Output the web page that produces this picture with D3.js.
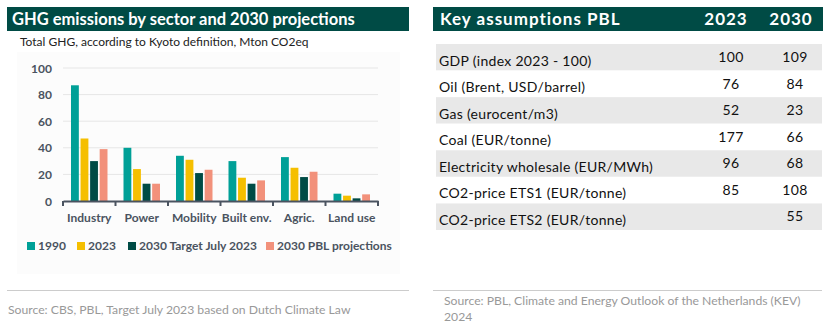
<!DOCTYPE html>
<html>
<head>
<meta charset="UTF-8">
<title>GHG emissions</title>
<script src="https://d3js.org/d3.v7.min.js"></script>
<style>
  body { margin: 0; background: #fff; font-family: Lato, "Open Sans", sans-serif; }
  svg text { font-family: Lato, "Open Sans", sans-serif; }
</style>
</head>
<body>
<svg id="chart" width="828" height="329"></svg>
<script>
// chart data
const sectors = ["Industry", "Power", "Mobility", "Built env.", "Agric.", "Land use"];
const seriesNames = ["1990", "2023", "2030 Target July 2023", "2030 PBL projections"];
const v1990 = [87, 40, 34, 30, 33, 5.5];
const v2023 = [47, 24, 31, 17.5, 25, 4];
const vTarget = [30, 13, 21, 13, 18, 2];
const vPbl = [39, 13, 23.5, 15.5, 22, 5];
const yTicks = [0, 20, 40, 60, 80, 100];
const colors = ["#00a097", "#f5bf00", "#004b45", "#f2917b"];

// table data
const rowLabels = ["GDP (index 2023 - 100)", "Oil (Brent, USD/barrel)", "Gas (eurocent/m3)", "Coal (EUR/tonne)",
  "Electricity wholesale (EUR/MWh)", "CO2-price ETS1 (EUR/tonne)", "CO2-price ETS2 (EUR/tonne)"];
const col2023 = ["100", "76", "52", "177", "96", "85", ""];
const col2030 = ["109", "84", "23", "66", "68", "108", "55"];

const svg = d3.select("#chart");
const dark = "#004b45";

// ---- left panel ----
svg.append("rect").attr("x", 7).attr("y", 7).attr("width", 402).attr("height", 24).attr("fill", dark);
svg.append("text").attr("x", 12).attr("y", 25).attr("fill", "#fff")
  .attr("font-size", 16.5).attr("font-weight", "bold").text("GHG emissions by sector and 2030 projections");
svg.append("text").attr("x", 20).attr("y", 46).attr("fill", "#222").attr("font-size", 12)
  .text("Total GHG, according to Kyoto definition, Mton CO2eq");

svg.append("rect").attr("x", 17).attr("y", 52).attr("width", 383).attr("height", 222).attr("fill", "#fcfcfc");

const x0 = d3.scaleBand().domain(sectors).range([63, 378]).paddingInner(0).paddingOuter(0);
const x1 = d3.scaleBand().domain(seriesNames).range([8, x0.bandwidth() - 8]).paddingInner(0.18);
const y = d3.scaleLinear().domain([0, 100]).range([201, 68]);

const g = svg.append("g");
g.selectAll("line.grid").data(yTicks.slice(1)).join("line")
  .attr("x1", 63).attr("x2", 378).attr("y1", d => y(d)).attr("y2", d => y(d))
  .attr("stroke", "#e6e6e6").attr("stroke-width", 1);
g.selectAll("text.ytick").data(yTicks).join("text")
  .attr("x", 52).attr("y", d => y(d) + 4.5).attr("text-anchor", "end")
  .attr("font-size", 12).attr("font-weight", "bold").attr("fill", "#4a5360").text(d => d);

const allSeries = [v1990, v2023, vTarget, vPbl];
sectors.forEach((s, i) => {
  g.append("g").attr("transform", `translate(${x0(s)},0)`)
    .selectAll("rect").data(seriesNames).join("rect")
    .attr("x", d => x1(d)).attr("width", x1.bandwidth())
    .attr("y", (d, j) => y(allSeries[j][i]))
    .attr("height", (d, j) => y(0) - y(allSeries[j][i]))
    .attr("fill", (d, j) => colors[j]);
});

const axis = d3.axisBottom(x0).tickSize(0).tickPadding(12);
const ax = g.append("g").attr("transform", `translate(0,${y(0)})`).call(axis);
ax.select(".domain").attr("stroke", "#4a5360").attr("stroke-width", 2);
ax.selectAll("text").attr("font-size", 12).attr("font-weight", "bold").attr("fill", "#4a5360")
  .style("font-family", "Lato, sans-serif");
g.selectAll("line.sep").data(d3.range(sectors.length + 1)).join("line")
  .attr("x1", i => 63 + i * x0.bandwidth()).attr("x2", i => 63 + i * x0.bandwidth())
  .attr("y1", y(0)).attr("y2", y(0) + 5).attr("stroke", "#4a5360").attr("stroke-width", 2);

// legend
const legendX = [27, 77, 128, 266];
const leg = g.selectAll("g.leg").data(seriesNames).join("g")
  .attr("transform", (d, i) => `translate(${legendX[i]},245)`);
leg.append("rect").attr("width", 8).attr("height", 8).attr("y", -3).attr("fill", (d, i) => colors[i]);
leg.append("text").attr("x", 11).attr("y", 5).attr("font-size", 12).attr("font-weight", "bold")
  .attr("fill", "#4a5360").text(d => d);

svg.append("line").attr("x1", 7).attr("x2", 409).attr("y1", 290.5).attr("y2", 290.5).attr("stroke", "#cccccc");
svg.append("text").attr("x", 8).attr("y", 314).attr("font-size", 12.2).attr("fill", "#999")
  .text("Source: CBS, PBL, Target July 2023 based on Dutch Climate Law");

// ---- right panel ----
svg.append("rect").attr("x", 433).attr("y", 7).attr("width", 390).attr("height", 24).attr("fill", dark);
const hdr = svg.append("g").attr("fill", "#fff").attr("font-size", 17).attr("font-weight", "bold")
  .attr("letter-spacing", 1);
hdr.append("text").attr("x", 440).attr("y", 25).text("Key assumptions PBL");
hdr.append("text").attr("x", 726).attr("y", 25).attr("text-anchor", "middle").text("2023");
hdr.append("text").attr("x", 791).attr("y", 25).attr("text-anchor", "middle").text("2030");

const rowY = d3.scaleBand().domain(d3.range(rowLabels.length)).range([44, 230]);
const rows = svg.append("g").selectAll("g").data(rowLabels).join("g")
  .attr("transform", (d, i) => `translate(0,${rowY(i)})`);
rows.append("rect").attr("x", 436).attr("width", 386).attr("height", rowY.bandwidth())
  .attr("fill", (d, i) => i % 2 === 0 ? "#e8e8e8" : "#ffffff");
rows.append("text").attr("x", 439).attr("y", 21.5).attr("font-size", 14).attr("letter-spacing", 0.3)
  .attr("fill", "#111").text(d => d);
rows.append("text").attr("x", 731).attr("y", 18).attr("text-anchor", "middle").attr("font-size", 14)
  .attr("letter-spacing", 0.3).attr("fill", "#111").text((d, i) => col2023[i]);
rows.append("text").attr("x", 795).attr("y", 18).attr("text-anchor", "middle").attr("font-size", 14)
  .attr("letter-spacing", 0.3).attr("fill", "#111").text((d, i) => col2030[i]);

svg.append("line").attr("x1", 433).attr("x2", 822).attr("y1", 290.5).attr("y2", 290.5).attr("stroke", "#cccccc");
svg.append("text").attr("x", 444).attr("y", 305).attr("font-size", 12.2).attr("fill", "#999")
  .text("Source: PBL, Climate and Energy Outlook of the Netherlands (KEV)");
svg.append("text").attr("x", 444).attr("y", 321).attr("font-size", 12.2).attr("fill", "#999").text("2024");
</script>
</body>
</html>
